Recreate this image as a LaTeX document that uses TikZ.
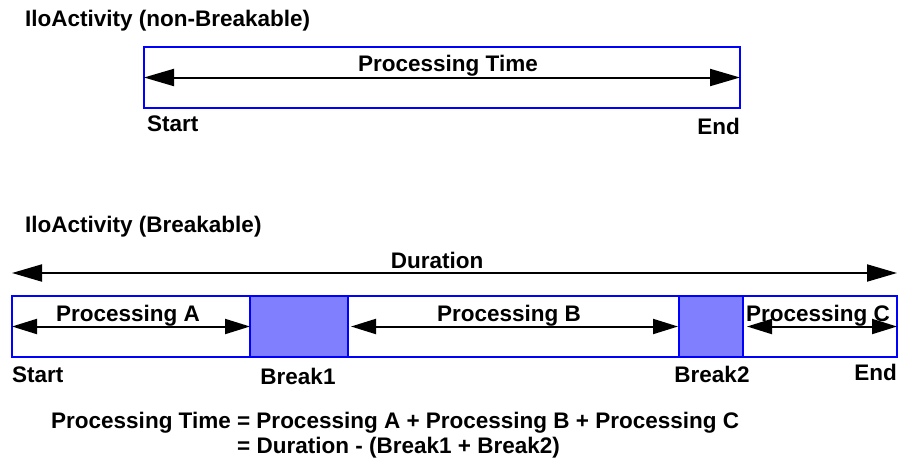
\documentclass[tikz,border=0pt]{standalone}
\usepackage{fontspec}
\setmainfont{Liberation Sans}
\usepackage{tikz}
\usetikzlibrary{arrows.meta,positioning}
\definecolor{BoxBlue}{HTML}{0000FF}
\definecolor{BreakFill}{HTML}{8080FF}
\tikzset{
  spanarrow/.style={{Triangle[length=30pt,width=17pt]}-{Triangle[length=30pt,width=17pt]}, line width=2pt, draw=black},
  phasearrow/.style={{Triangle[length=25pt,width=15pt]}-{Triangle[length=25pt,width=15pt]}, line width=2pt, draw=black},
  phasebox/.style={draw=BoxBlue, line width=2pt, fill=white, inner sep=0pt, outer sep=0pt, minimum height=61pt},
  breakbox/.style={phasebox, fill=BreakFill},
  labeltxt/.style={font=\fontsize{22.5}{27}\selectfont\bfseries, inner sep=0pt, text=black},
}

\begin{document}
\begin{tikzpicture}[x=1pt,y=-1pt]
\path[use as bounding box] (0,0) rectangle (904,461);

% non-breakable activity
\node[labeltxt,anchor=base west] (title1) at (25,26) {IloActivity (non-Breakable)};
\node[phasebox,minimum width=596pt] (proc) at (442,77.5) {};
\draw[spanarrow] (proc.west) -- (proc.east);
\node[labeltxt,anchor=base] (proctime) at (448,71) {Processing Time};
\node[labeltxt,anchor=base west] (start1) at (147,131) {Start};
\node[labeltxt,anchor=base east] (end1) at (740,134) {End};

% breakable activity
\node[labeltxt,anchor=base west] (title2) at (25,232) {IloActivity (Breakable)};
\coordinate (durL) at (12,273);
\coordinate (durR) at (897,273);
\draw[spanarrow] (durL) -- (durR);
\node[labeltxt,anchor=base] (duration) at (437,268) {Duration};

\node[phasebox,minimum width=238pt] (phaseA) at (131,326.5) {};
\node[breakbox,minimum width=98pt] (brk1) at (299,326.5) {};
\node[phasebox,minimum width=331pt] (phaseB) at (513.5,326.5) {};
\node[breakbox,minimum width=64pt] (brk2) at (711,326.5) {};
\node[phasebox,minimum width=154pt] (phaseC) at (820,326.5) {};
\draw[phasearrow] (phaseA.west) -- (phaseA.east);
\draw[phasearrow,shorten <=3pt,shorten >=1pt] (phaseB.west) -- (phaseB.east);
\draw[phasearrow,shorten <=4pt] (phaseC.west) -- (phaseC.east);
\node[labeltxt,anchor=base] (labA) at (128,321) {Processing A};
\node[labeltxt,anchor=base] (labB) at (509,321) {Processing B};
\node[labeltxt,anchor=base] (labC) at (818,321) {Processing C};

\node[labeltxt,anchor=base west] (start2) at (12,382) {Start};
\node[labeltxt,anchor=base] (brklab1) at (298,384) {Break1};
\node[labeltxt,anchor=base] (brklab2) at (712,382) {Break2};
\node[labeltxt,anchor=base east] (end2) at (897,380) {End};

% formula
\node[labeltxt,anchor=base west] (form1) at (51,428) {Processing Time = Processing A + Processing B + Processing C};
\node[labeltxt,anchor=base west] (form2) at (237,453) {= Duration - (Break1 + Break2)};
\end{tikzpicture}
\end{document}
